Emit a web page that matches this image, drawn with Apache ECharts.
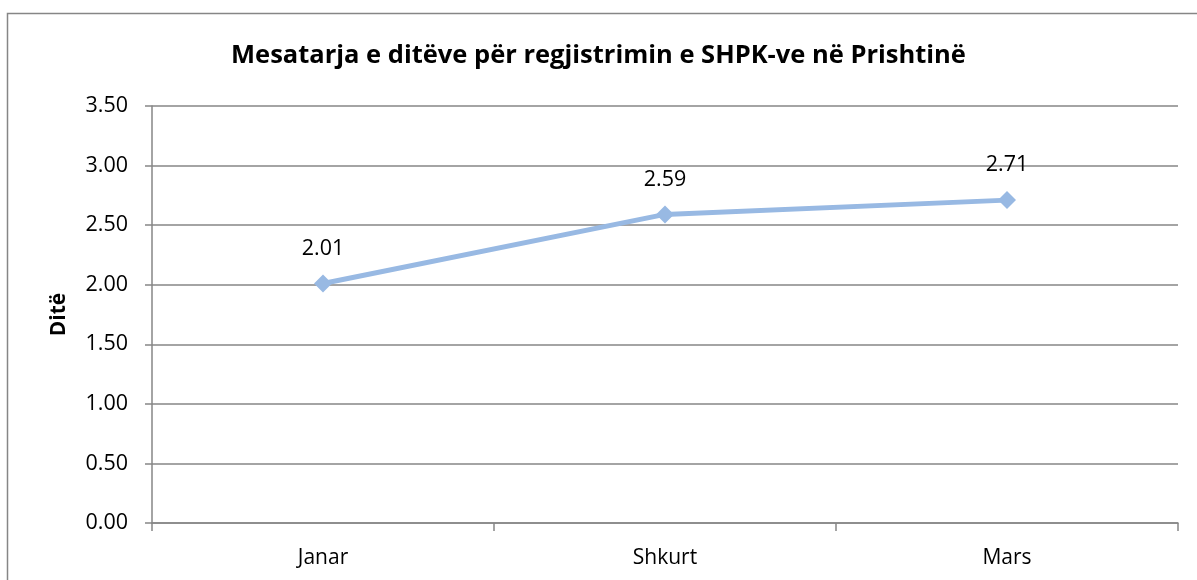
<!DOCTYPE html>
<html>
<head>
<meta charset="utf-8">
<script src="https://cdn.jsdelivr.net/npm/echarts@6/dist/echarts.min.js"></script>
<style>
  html, body { margin: 0; padding: 0; background: #fff; }
  #chart { width: 1197px; height: 580px; }
</style>
</head>
<body>
<div id="chart"></div>
<script>
// data
const months = ['Janar', 'Shkurt', 'Mars']
const avgDays = [2.01, 2.59, 2.71]

const fontFamily = '"Open Sans", "Noto Sans", sans-serif'
const axisGrey = '#868686'

const chart = echarts.init(document.getElementById('chart'))
chart.setOption({
  animation: false,
  textStyle: { fontFamily },
  title: {
    text: 'Mesatarja e ditëve për regjistrimin e SHPK-ve në Prishtinë',
    left: 'center',
    top: 38,
    textStyle: { fontSize: 25.5, fontWeight: 'bold', color: '#000', fontFamily }
  },
  graphic: [{
    type: 'rect',
    shape: { x: 7.5, y: 13.5, width: 1300, height: 700 },
    style: { fill: 'none', stroke: axisGrey, lineWidth: 1.5 },
    silent: true
  }],
  grid: { left: 152, right: 19, top: 106, bottom: 57 },
  xAxis: {
    type: 'category',
    data: months,
    boundaryGap: true,
    axisLine: { lineStyle: { color: axisGrey, width: 1.5 } },
    axisTick: { show: true, length: 8, lineStyle: { color: axisGrey, width: 1.5 } },
    axisLabel: { color: '#000', fontSize: 21, margin: 25 }
  },
  yAxis: {
    type: 'value',
    name: 'Ditë',
    nameLocation: 'middle',
    nameGap: 82,
    nameRotate: 90,
    nameTextStyle: { fontSize: 21, fontWeight: 'bold', color: '#000' },
    min: 0,
    max: 3.5,
    interval: 0.5,
    axisLine: { show: true, lineStyle: { color: axisGrey, width: 1.5 } },
    axisTick: { show: true, length: 7, lineStyle: { color: axisGrey, width: 1.5 } },
    axisLabel: { color: '#000', fontSize: 21.5, margin: 24, formatter: v => v.toFixed(2) },
    splitLine: { show: true, lineStyle: { color: axisGrey, width: 1.5 } }
  },
  series: [{
    type: 'line',
    data: avgDays,
    symbol: 'diamond',
    symbolSize: 18,
    lineStyle: { color: '#98B9E3', width: 5 },
    itemStyle: { color: '#98B9E3' },
    label: {
      show: true,
      position: 'top',
      distance: 15,
      color: '#000',
      fontSize: 21.5,
      formatter: p => p.value.toFixed(2)
    }
  }]
})
</script>
</body>
</html>
